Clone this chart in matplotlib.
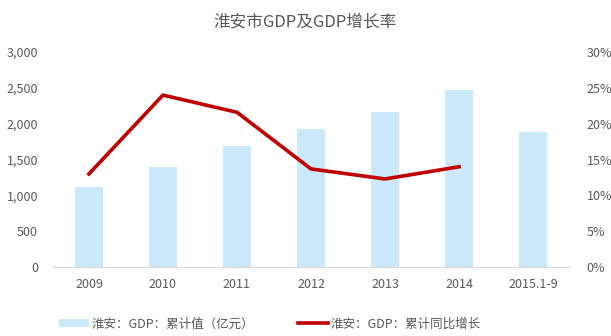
import numpy as np
import matplotlib.pyplot as plt
from matplotlib.ticker import FuncFormatter

plt.rcParams['font.family'] = ['Noto Sans CJK SC', 'DejaVu Sans']

years = ['2009', '2010', '2011', '2012', '2013', '2014', '2015.1-9']
gdp = [1116, 1395, 1688, 1926, 2163, 2470, 1884]  # 累计值(亿元)
growth = [13.0, 24.0, 21.6, 13.7, 12.3, 14.0]     # 累计同比增长 %

grey = '#595959'
fig = plt.figure(figsize=(6.11, 3.36), dpi=100)
ax = fig.add_axes([0.085, 0.205, 0.848, 0.64])
ax2 = ax.twinx()

x = np.arange(len(years))
bars = ax.bar(x, gdp, width=0.39, color='#CCE8FB', label='淮安：GDP：累计值（亿元）')
line, = ax2.plot(x[:len(growth)], growth, color='#C00000', lw=2.6,
                 label='淮安：GDP：累计同比增长')

ax.set_xlim(-0.5, len(years) - 0.5)
ax.set_ylim(0, 3000)
ax.set_yticks(range(0, 3001, 500))
ax.yaxis.set_major_formatter(FuncFormatter(lambda v, p: f'{int(v):,}'))
ax2.set_ylim(0, 30)
ax2.set_yticks(range(0, 31, 5))
ax2.yaxis.set_major_formatter(FuncFormatter(lambda v, p: f'{int(v)}%'))
ax.set_xticks(x)
ax.set_xticklabels(years)

for a in (ax, ax2):
    for s in a.spines.values():
        s.set_visible(False)
    a.tick_params(length=0, colors=grey, labelsize=9)
ax.spines['bottom'].set_visible(True)
ax.spines['bottom'].set_color('#D9D9D9')
ax.tick_params(axis='x', pad=8)
ax.tick_params(axis='y', pad=10)
ax2.tick_params(axis='y', pad=12)

fig.text(0.5, 0.935, '淮安市GDP及GDP增长率', ha='center', va='center',
         fontsize=12, color=grey)
fig.legend(handles=[bars, line], loc='center', bbox_to_anchor=(0.442, 0.036),
           ncol=2, frameon=False, fontsize=9, labelcolor=grey,
           handlelength=2.4, handleheight=0.5, handletextpad=0.2, columnspacing=3.5)

fig.savefig('out.png', dpi=100)
